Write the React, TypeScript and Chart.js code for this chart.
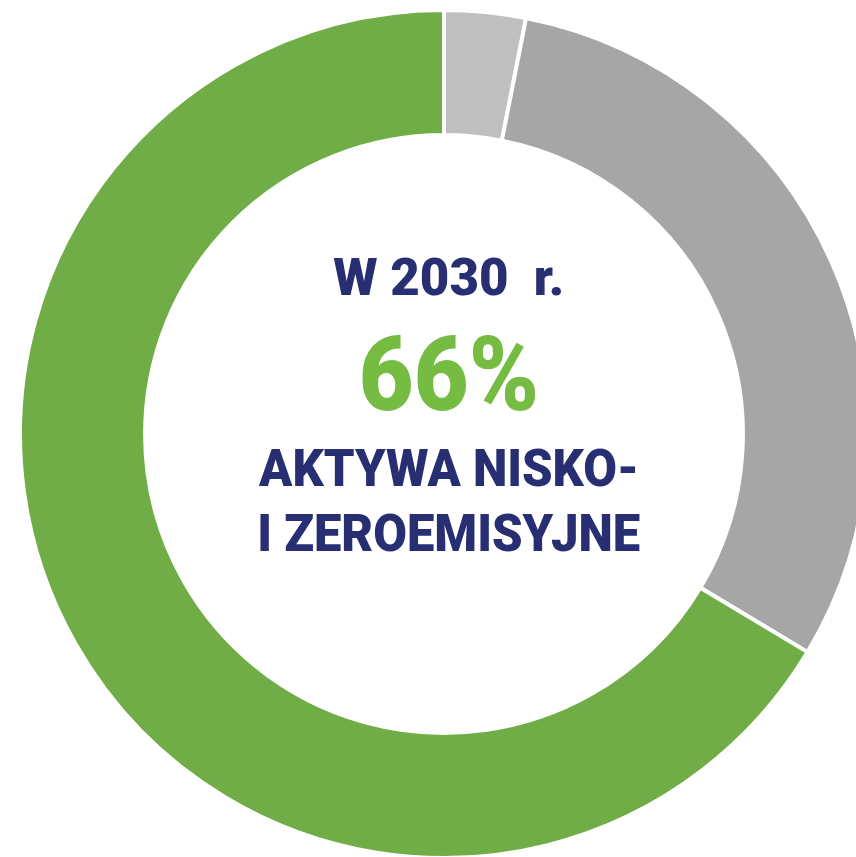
import React, { useEffect, useRef } from "react";
import { Chart, registerables } from "chart.js";

Chart.register(...registerables);

const categories = ["Pozostałe", "Aktywa wysokoemisyjne", "Aktywa nisko- i zeroemisyjne"];
const values = [3.1, 30.5, 66.4];
const colors = ["#BFBFBF", "#A6A6A6", "#70AD47"];
const titleLine = "W 2030  r.";
const bigValue = "66%";
const captionLines = ["AKTYWA NISKO-", "I ZEROEMISYJNE"];

const NAVY = "#272E72";
const GREEN_TEXT = "#76BC43";
const FONT = "Roboto, 'Noto Sans', sans-serif";

export default function App() {
  const ref = useRef<HTMLCanvasElement | null>(null);

  useEffect(() => {
    if (!ref.current) return;
    const chart = new Chart(ref.current, {
      type: "doughnut",
      data: {
        labels: categories,
        datasets: [
          {
            data: values,
            backgroundColor: colors,
            borderColor: "#FFFFFF",
            borderWidth: 4,
          },
        ],
      },
      options: {
        responsive: false,
        animation: false,
        cutout: "70.5%",
        layout: { padding: 0 },
        plugins: {
          legend: { display: false },
          tooltip: { enabled: false },
        },
      },
    });
    return () => chart.destroy();
  }, []);

  const line = (text: string, top: number, size: number, color: string, sx: number) => (
    <div
      style={{
        position: "absolute",
        left: 0,
        width: 898,
        top,
        textAlign: "center",
        fontFamily: FONT,
        fontWeight: 900,
        fontSize: size,
        lineHeight: `${size}px`,
        color,
        whiteSpace: "pre",
      }}
    >
      <span style={{ display: "inline-block", transform: `scaleX(${sx})` }}>{text}</span>
    </div>
  );

  return (
    <div
      style={{
        position: "fixed",
        left: 0,
        top: 0,
        width: 856,
        height: 857,
        overflow: "hidden",
        background: "#FFFFFF",
      }}
    >
      <canvas
        ref={ref}
        width={852}
        height={852}
        style={{ position: "absolute", left: 18, top: 8, width: 852, height: 852 }}
      />
      {line(titleLine, 252, 52, NAVY, 0.98)}
      {line(bigValue, 323, 103, GREEN_TEXT, 0.92)}
      {line(captionLines[0], 443, 52, NAVY, 0.94)}
      {line(captionLines[1], 508, 52, NAVY, 0.94)}
    </div>
  );
}
